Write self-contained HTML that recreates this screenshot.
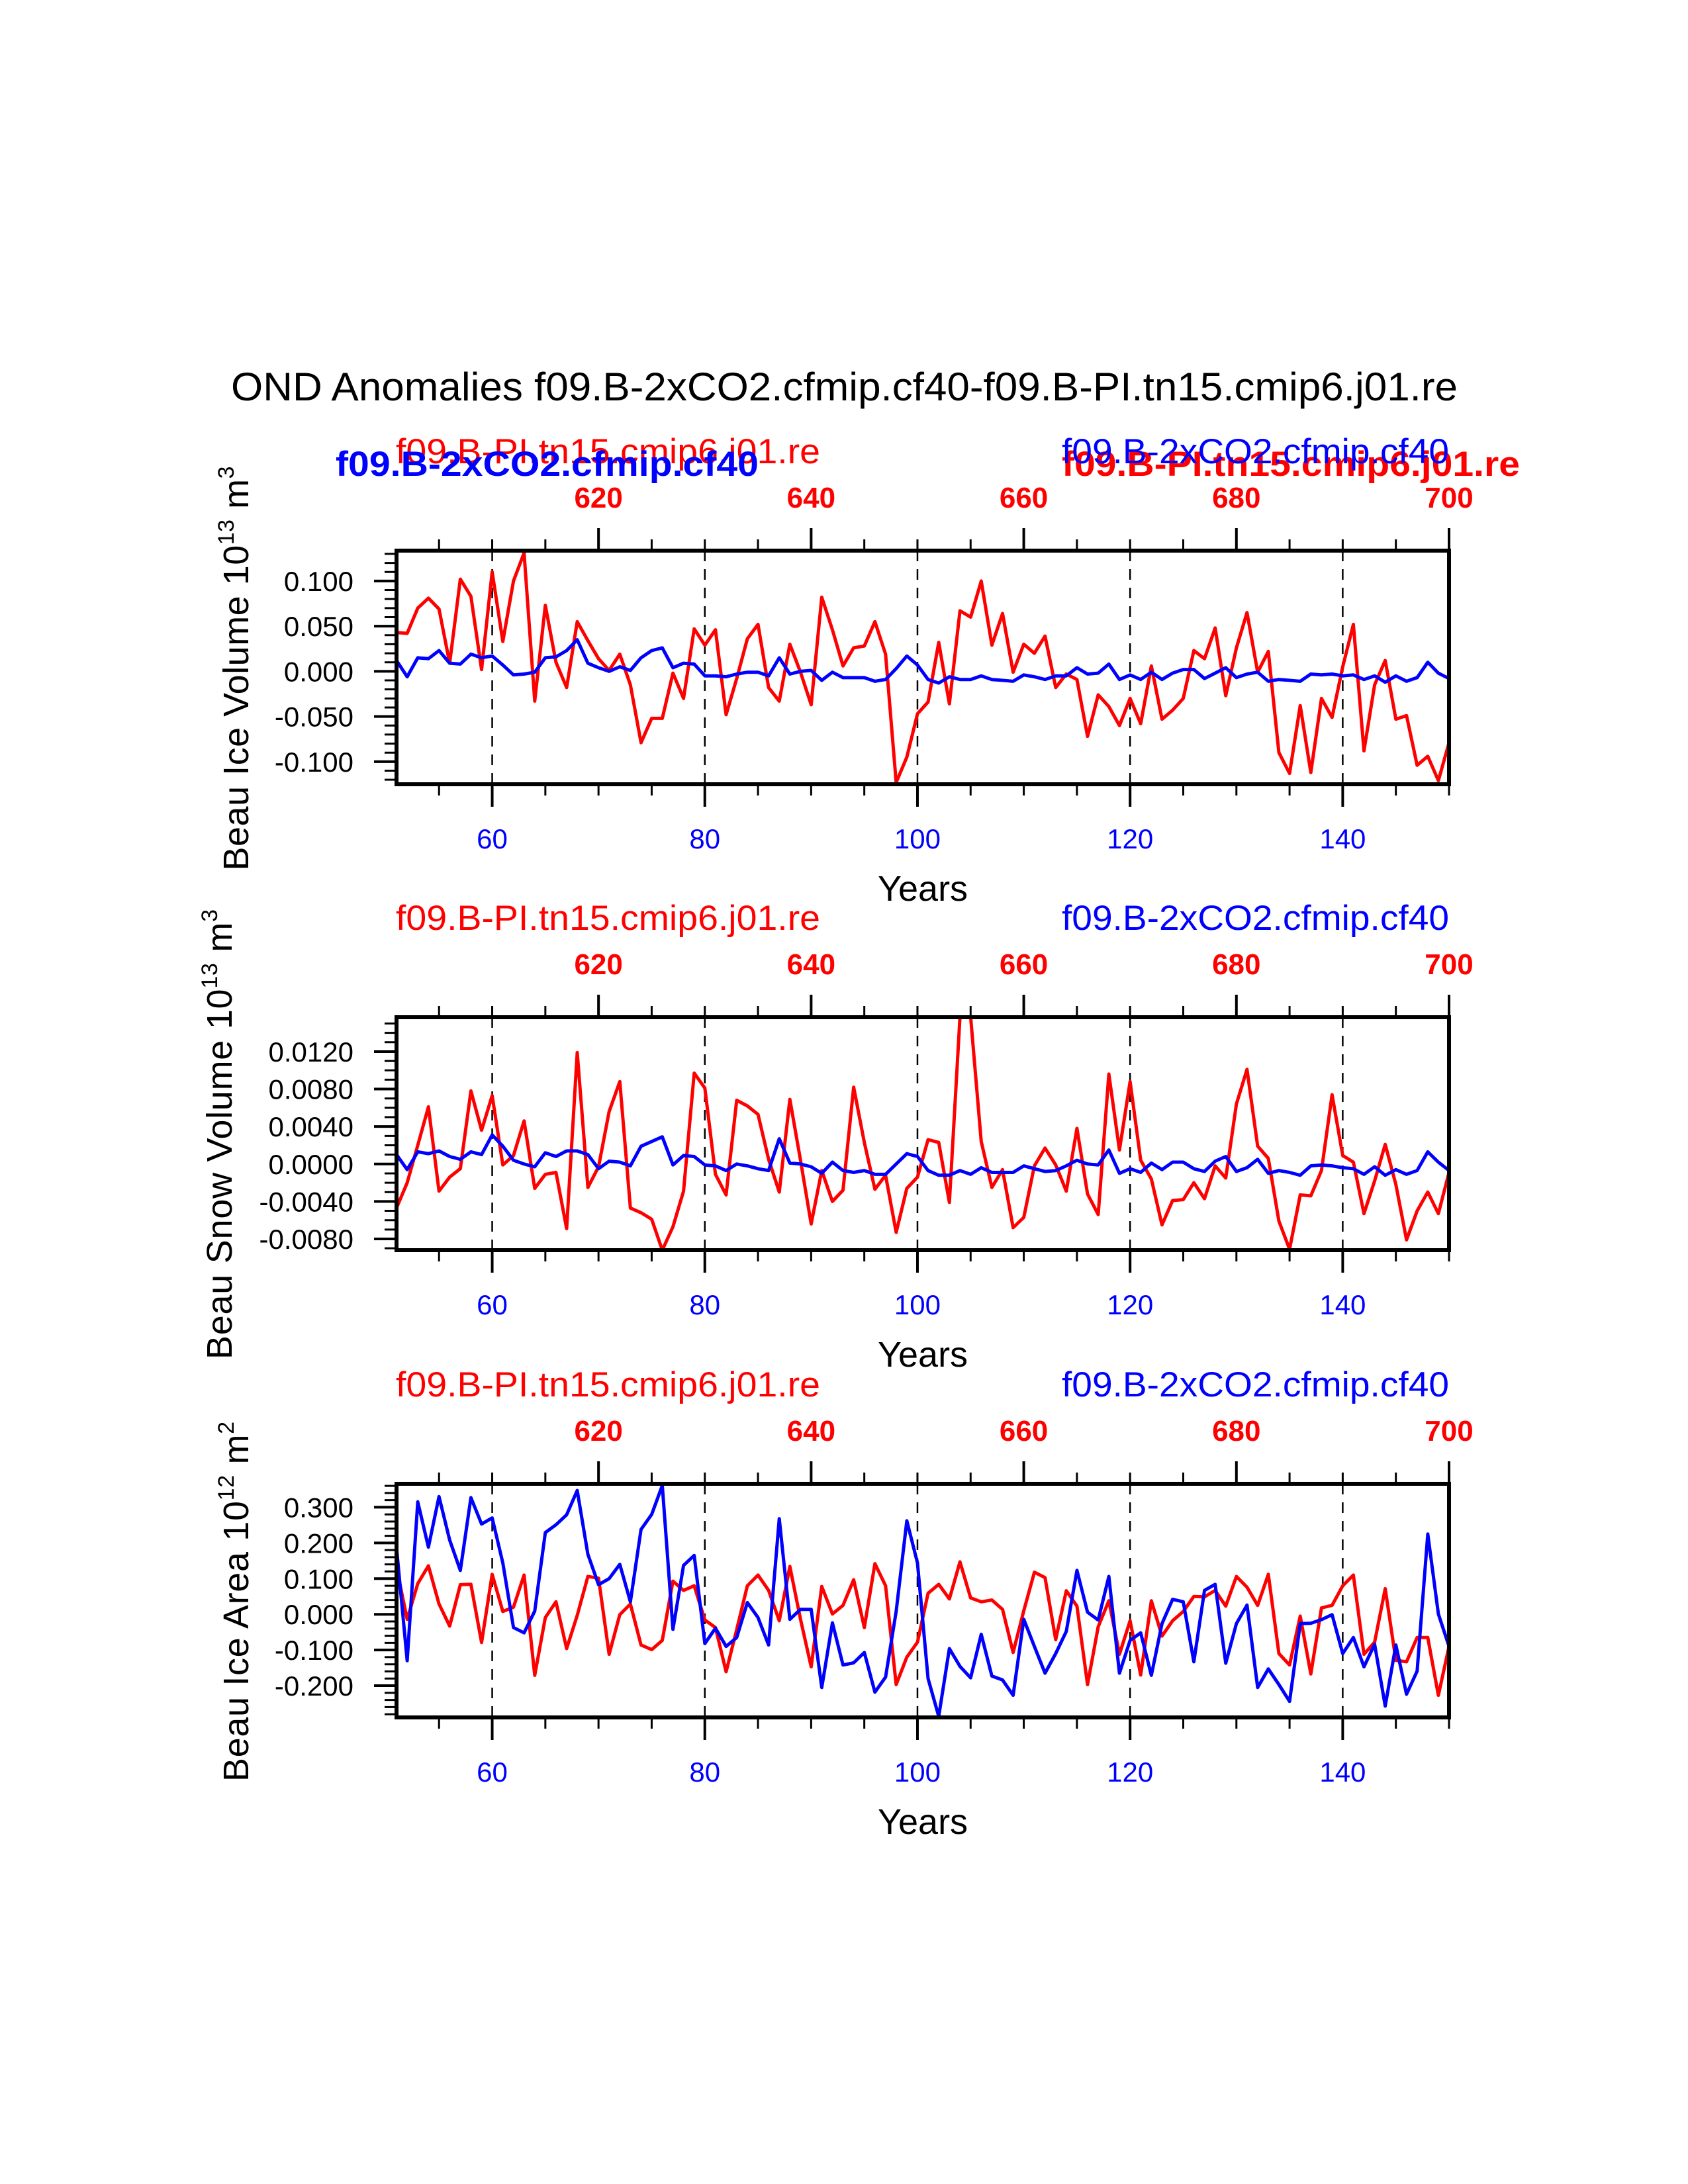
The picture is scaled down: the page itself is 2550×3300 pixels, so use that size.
<!DOCTYPE html>
<html><head><meta charset="utf-8">
<style>
html,body{margin:0;padding:0;background:#fff;}
svg{display:block;font-family:"Liberation Sans",Arial,sans-serif;}
</style></head>
<body>
<svg id="chart" width="2550" height="3300" viewBox="0 0 2550 3300" xmlns="http://www.w3.org/2000/svg">
<rect width="2550" height="3300" fill="#fff"/>
<text x="349" y="605" font-size="60" textLength="1853" lengthAdjust="spacingAndGlyphs" fill="#000">OND Anomalies f09.B-2xCO2.cfmip.cf40-f09.B-PI.tn15.cmip6.j01.re</text>
<g id="panels"></g>
</svg>
<script>
const years = [];
for (let y = 51; y <= 150; y++) years.push(y);
const bottomTicks = [60, 80, 100, 120, 140];
const topTickLabels = ["620", "640", "660", "680", "700"];
const topTickYears = [70, 90, 110, 130, 150];

const iceVolRed = [0.043,0.042,0.070,0.081,0.069,0.009,0.102,0.083,0.002,0.110,0.033,0.100,0.131,-0.033,0.073,0.010,-0.018,0.055,0.034,0.014,0.001,0.019,-0.015,-0.079,-0.052,-0.052,-0.002,-0.030,0.047,0.029,0.046,-0.048,-0.008,0.036,0.052,-0.018,-0.033,0.030,-0.001,-0.037,0.082,0.046,0.006,0.026,0.028,0.055,0.019,-0.123,-0.095,-0.047,-0.034,0.032,-0.036,0.067,0.060,0.100,0.029,0.064,-0.001,0.030,0.020,0.039,-0.018,-0.003,-0.009,-0.072,-0.026,-0.039,-0.060,-0.030,-0.058,0.006,-0.053,-0.043,-0.030,0.023,0.014,0.048,-0.027,0.026,0.065,-0.001,0.022,-0.090,-0.113,-0.038,-0.112,-0.030,-0.051,0.005,0.052,-0.088,-0.015,0.012,-0.053,-0.049,-0.104,-0.094,-0.121,-0.079];
const iceVolBlue = [0.012,-0.006,0.015,0.014,0.023,0.009,0.008,0.019,0.015,0.017,0.007,-0.004,-0.003,-0.001,0.015,0.016,0.023,0.035,0.009,0.004,0.000,0.005,0.001,0.015,0.023,0.026,0.004,0.009,0.008,-0.005,-0.005,-0.006,-0.003,-0.001,-0.001,-0.005,0.015,-0.003,0.000,0.001,-0.010,-0.001,-0.007,-0.007,-0.007,-0.011,-0.009,0.003,0.017,0.007,-0.009,-0.013,-0.006,-0.009,-0.009,-0.005,-0.009,-0.010,-0.011,-0.004,-0.006,-0.009,-0.005,-0.005,0.004,-0.003,-0.002,0.008,-0.009,-0.004,-0.009,-0.001,-0.009,-0.002,0.002,0.002,-0.008,-0.002,0.004,-0.007,-0.003,-0.001,-0.011,-0.009,-0.010,-0.011,-0.003,-0.004,-0.003,-0.005,-0.004,-0.009,-0.005,-0.012,-0.005,-0.011,-0.007,0.010,-0.002,-0.008];

const snowVolRed = [-0.0047,-0.0020,0.0020,0.0061,-0.0029,-0.0014,-0.0005,0.0078,0.0036,0.0073,-0.0001,0.0009,0.0046,-0.0026,-0.0011,-0.0009,-0.0069,0.0119,-0.0025,-0.0003,0.0056,0.0088,-0.0047,-0.0052,-0.0059,-0.0092,-0.0067,-0.0029,0.0097,0.0081,-0.0011,-0.0033,0.0068,0.0062,0.0053,0.0005,-0.0030,0.0069,0.0004,-0.0064,-0.0007,-0.0040,-0.0028,0.0082,0.0023,-0.0027,-0.0012,-0.0073,-0.0026,-0.0014,0.0026,0.0023,-0.0041,0.0157,0.0157,0.0024,-0.0025,-0.0006,-0.0068,-0.0057,-0.0002,0.0017,-0.0001,-0.0029,0.0038,-0.0032,-0.0054,0.0096,0.0015,0.0088,0.0004,-0.0016,-0.0065,-0.0039,-0.0038,-0.0020,-0.0037,-0.0002,-0.0015,0.0064,0.0101,0.0019,0.0006,-0.0061,-0.0091,-0.0033,-0.0034,-0.0007,0.0074,0.0009,0.0002,-0.0053,-0.0018,0.0021,-0.0022,-0.0081,-0.0050,-0.0030,-0.0053,-0.0009];
const snowVolBlue = [0.0010,-0.0006,0.0013,0.0011,0.0014,0.0008,0.0005,0.0013,0.0010,0.0031,0.0019,0.0004,0.0000,-0.0003,0.0012,0.0008,0.0014,0.0014,0.0010,-0.0005,0.0003,0.0002,-0.0002,0.0019,0.0024,0.0029,-0.0001,0.0009,0.0008,-0.0001,-0.0002,-0.0007,0.0000,-0.0002,-0.0005,-0.0007,0.0027,0.0001,0.0000,-0.0003,-0.0010,0.0002,-0.0007,-0.0009,-0.0007,-0.0011,-0.0011,0.0000,0.0011,0.0008,-0.0007,-0.0012,-0.0012,-0.0007,-0.0011,-0.0004,-0.0009,-0.0009,-0.0009,-0.0002,-0.0005,-0.0008,-0.0007,-0.0002,0.0004,0.0000,-0.0001,0.0015,-0.0010,-0.0005,-0.0009,0.0001,-0.0006,0.0002,0.0002,-0.0005,-0.0008,0.0003,0.0008,-0.0008,-0.0004,0.0005,-0.0010,-0.0007,-0.0009,-0.0012,-0.0002,-0.0001,-0.0002,-0.0004,-0.0005,-0.0011,-0.0003,-0.0012,-0.0006,-0.0011,-0.0007,0.0013,0.0002,-0.0007];

const iceAreaRed = [0.131,-0.014,0.086,0.136,0.029,-0.033,0.083,0.084,-0.079,0.112,0.008,0.020,0.110,-0.171,-0.009,0.035,-0.096,-0.003,0.106,0.101,-0.112,-0.001,0.029,-0.086,-0.099,-0.073,0.093,0.067,0.080,-0.016,-0.037,-0.161,-0.043,0.080,0.110,0.067,-0.018,0.134,-0.014,-0.147,0.078,0.001,0.025,0.097,-0.037,0.142,0.080,-0.197,-0.120,-0.078,0.059,0.084,0.043,0.147,0.046,0.035,0.040,0.014,-0.107,0.010,0.118,0.103,-0.071,0.066,0.023,-0.197,-0.035,0.038,-0.112,-0.018,-0.170,0.038,-0.061,-0.018,0.008,0.050,0.049,0.067,0.023,0.106,0.076,0.025,0.112,-0.110,-0.142,-0.005,-0.167,0.018,0.025,0.080,0.110,-0.112,-0.078,0.072,-0.129,-0.133,-0.065,-0.065,-0.227,-0.090];
const iceAreaBlue = [0.187,-0.130,0.315,0.188,0.330,0.208,0.123,0.327,0.253,0.270,0.144,-0.037,-0.052,0.009,0.229,0.251,0.279,0.347,0.168,0.083,0.100,0.140,0.035,0.238,0.280,0.361,-0.042,0.137,0.165,-0.082,-0.039,-0.090,-0.065,0.033,-0.009,-0.086,0.268,-0.014,0.014,0.014,-0.205,-0.024,-0.142,-0.136,-0.107,-0.218,-0.176,0.008,0.262,0.144,-0.180,-0.286,-0.096,-0.146,-0.178,-0.056,-0.173,-0.184,-0.227,-0.014,-0.090,-0.165,-0.110,-0.048,0.123,0.006,-0.016,0.106,-0.165,-0.073,-0.052,-0.171,-0.026,0.042,0.035,-0.133,0.067,0.084,-0.137,-0.026,0.026,-0.205,-0.153,-0.197,-0.244,-0.026,-0.025,-0.015,-0.001,-0.110,-0.065,-0.147,-0.084,-0.257,-0.086,-0.224,-0.159,0.225,0.001,-0.090];

const panelDefs = [
  {name:"ice-volume", top:832, bottom:1185, vmin:-0.125, vmax:0.1336, red:iceVolRed, blue:iceVolBlue,
   major:[-0.1,-0.05,0,0.05,0.1], labels:["-0.100","-0.050","0.000","0.050","0.100"], minorStep:0.01,
   ytitle:["Beau Ice Volume 10","13"," m","3"], ytx:356, yty:1010, ytl:611, overlay:true},
  {name:"snow-volume", top:1537, bottom:1889, vmin:-0.0092, vmax:0.01567, red:snowVolRed, blue:snowVolBlue,
   major:[-0.008,-0.004,0,0.004,0.008,0.012], labels:["-0.0080","-0.0040","0.0000","0.0040","0.0080","0.0120"], minorStep:0.001,
   ytitle:["Beau Snow Volume 10","13"," m","3"], ytx:331, yty:1714, ytl:680, overlay:false},
  {name:"ice-area", top:2242, bottom:2595, vmin:-0.2889, vmax:0.3657, red:iceAreaRed, blue:iceAreaBlue,
   major:[-0.2,-0.1,0,0.1,0.2,0.3], labels:["-0.200","-0.100","0.000","0.100","0.200","0.300"], minorStep:0.02,
   ytitle:["Beau Ice Area 10","12"," m","2"], ytx:356, yty:2420, ytl:544, overlay:false}
];

const NS = "http://www.w3.org/2000/svg";
const L = 599, R = 2189;
function xs(yr){ return L + (yr - 51) * (R - L) / 99; }
function mk(tag, attrs, parent){
  const e = document.createElementNS(NS, tag);
  for (const k in attrs) e.setAttribute(k, attrs[k]);
  parent.appendChild(e); return e;
}
const root = document.getElementById("panels");

panelDefs.forEach(p => {
  const g = mk("g", {}, root);
  
  
  const ys = v => p.top + (p.vmax - v) / (p.vmax - p.vmin) * (p.bottom - p.top);

  bottomTicks.forEach(t => {
    const d = mk("line", {x1:xs(t), x2:xs(t), y1:p.top, y2:p.bottom, stroke:"#000", "stroke-width":2.5, "stroke-dasharray":"16,12"}, g);
    
    
  });
  [["red","#ff0000"],["blue","#0000ff"]].forEach(([k,c]) => {
    const pts = years.map((yr,i) => xs(yr).toFixed(1) + "," + ys(p[k][i]).toFixed(1)).join(" ");
    const pl = mk("polyline", {points:pts, fill:"none", stroke:c, "stroke-width":5, "stroke-linejoin":"round"}, g);
    
    
  });
  const box = mk("rect", {x:L, y:p.top, width:R-L, height:p.bottom-p.top, fill:"none", stroke:"#000", "stroke-width":6}, g);
  
  
  for (let yr = 55; yr <= 150; yr += 5) {
    const maj = (yr % 20 === 0);
    const b = mk("line", {x1:xs(yr), x2:xs(yr), y1:p.bottom, y2:p.bottom + (maj?34:17), stroke:"#000", "stroke-width":maj?4:3}, g);
    
    
    const tmaj = ((yr - 70) % 20 === 0);
    const t = mk("line", {x1:xs(yr), x2:xs(yr), y1:p.top, y2:p.top - (tmaj?34:17), stroke:"#000", "stroke-width":tmaj?4:3}, g);
    
    
  }
  bottomTicks.forEach(t => {
    const tx = mk("text", {x:xs(t), y:p.bottom + 97, "font-size":42, fill:"#0000ff", "text-anchor":"middle"}, g);
    tx.textContent = String(t);
    
    
  });
  topTickYears.forEach((t,i) => {
    const tx = mk("text", {x:xs(t), y:p.top - 65, "font-size":44, "font-weight":"bold", fill:"#ff0000", "text-anchor":"middle"}, g);
    tx.textContent = topTickLabels[i];
    
    
  });
  const start = Math.ceil(p.vmin / p.minorStep - 1e-6), end = Math.floor(p.vmax / p.minorStep + 1e-6);
  for (let k = start; k <= end; k++) {
    const v = k * p.minorStep;
    const isMaj = p.major.some(m => Math.abs(m - v) < p.minorStep / 10);
    const tk = mk("line", {x1:L, x2:L - (isMaj?34:18), y1:ys(v), y2:ys(v), stroke:"#000", "stroke-width":isMaj?4:3}, g);
    
    
  }
  p.major.forEach((m,i) => {
    const tx = mk("text", {x:534, y:ys(m) + 15, "font-size":42, fill:"#000", "text-anchor":"end"}, g);
    tx.textContent = p.labels[i];
    
    
  });
  const xt = mk("text", {x:1394, y:p.bottom + 176, "font-size":54, fill:"#000", "text-anchor":"middle"}, g);
  xt.textContent = "Years";
  
  
  const yt = mk("text", {transform:"translate(" + (p.ytx + 19) + "," + p.yty + ") rotate(-90)", "font-size":54, fill:"#000", "text-anchor":"middle", textLength:p.ytl, lengthAdjust:"spacing"}, g);
  
  
  const s1 = mk("tspan", {}, yt); s1.textContent = p.ytitle[0];
  const s2 = mk("tspan", {"font-size":34, dy:-22}, yt); s2.textContent = p.ytitle[1];
  const s3 = mk("tspan", {dy:22}, yt); s3.textContent = p.ytitle[2];
  const s4 = mk("tspan", {"font-size":34, dy:-22}, yt); s4.textContent = p.ytitle[3];
  const base = p.top - 132;
  const rl = mk("text", {x:598, y:base, "font-size":53, fill:"#ff0000", textLength:641, lengthAdjust:"spacingAndGlyphs"}, g);
  rl.textContent = "f09.B-PI.tn15.cmip6.j01.re";
  
  
  const bl = mk("text", {x:1604, y:base, "font-size":53, fill:"#0000ff", textLength:585, lengthAdjust:"spacingAndGlyphs"}, g);
  bl.textContent = "f09.B-2xCO2.cfmip.cf40";
  
  
  if (p.overlay) {
    const ob = mk("text", {x:507, y:base + 19, "font-size":53, "font-weight":"bold", fill:"#0000ff", textLength:639, lengthAdjust:"spacingAndGlyphs"}, g);
    ob.textContent = "f09.B-2xCO2.cfmip.cf40";
    
    
    const orr = mk("text", {x:1604, y:base + 19, "font-size":53, "font-weight":"bold", fill:"#ff0000", textLength:692, lengthAdjust:"spacingAndGlyphs"}, g);
    orr.textContent = "f09.B-PI.tn15.cmip6.j01.re";
    
    
    g.appendChild(bl);
  }
});
</script>
</body></html>
